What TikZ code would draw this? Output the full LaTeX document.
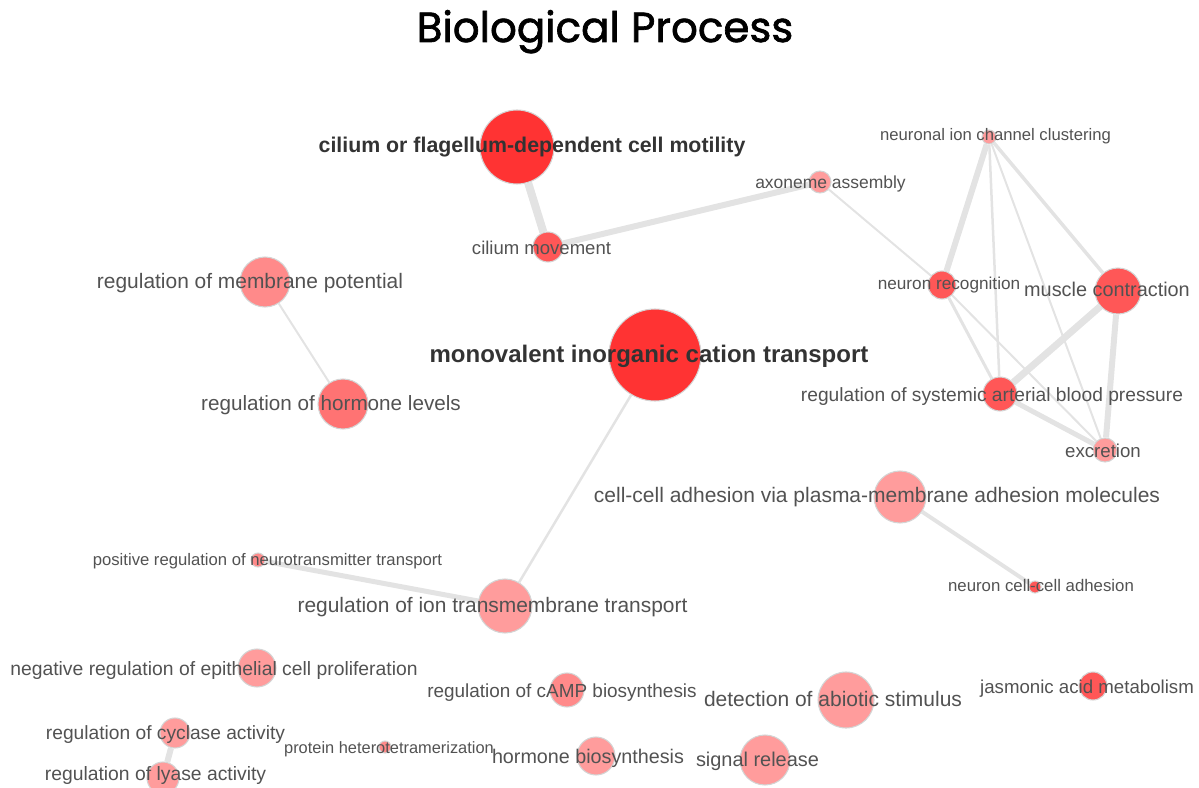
\documentclass[tikz,border=0pt]{standalone}
\usepackage{fontspec}
\setmainfont{Liberation Sans}
\newfontfamily\titlefont[RawFeature={embolden=1.6}]{Poppins}
\usepackage{xcolor}
\usetikzlibrary{positioning}

\definecolor{deep}{HTML}{FF3333}
\definecolor{strong}{HTML}{FF5757}
\definecolor{warm}{HTML}{FF7373}
\definecolor{soft}{HTML}{FF8A8A}
\definecolor{pale}{HTML}{FF9C9C}

\begin{document}
\begin{tikzpicture}[
    x=0.75pt, y=-0.75pt,
    term/.style={circle, draw=black!17, line width=0.8pt, inner sep=0pt, minimum size=#1*1.5pt},
    assoc/.style={draw=black!11, line width=#1*0.75pt},
    txt/.style={anchor=base, inner sep=0pt, text=black!68, font=\fontsize{#1}{#1}\selectfont},
    txtb/.style={anchor=base, inner sep=0pt, text=black!80, font=\bfseries\fontsize{#1}{#1}\selectfont}
]
\useasboundingbox (0,0) rectangle (1199,788);

\node[anchor=base, font=\titlefont\fontsize{31.5}{31.5}\selectfont] (title) at (605,42) {Biological Process};

% Terms
\node[term=37, fill=deep] (motility) at (517,147) {};
\node[term=15, fill=strong] (movement) at (548,247) {};
\node[term=11, fill=pale] (axoneme) at (820,182) {};
\node[term=7, fill=pale] (clustering) at (989,137) {};
\node[term=14, fill=strong] (recognition) at (942,285) {};
\node[term=23, fill=strong] (muscle) at (1118,291) {};
\node[term=17, fill=strong] (pressure) at (1000,394) {};
\node[term=12, fill=pale] (excretion) at (1105,450) {};
\node[term=46, fill=deep] (cation) at (655,355) {};
\node[term=25, fill=soft] (membrane) at (265,282) {};
\node[term=25, fill=warm] (hormone) at (343,404) {};
\node[term=26, fill=pale] (adhesion) at (900,497) {};
\node[term=6, fill=strong] (neuroadh) at (1035,587) {};
\node[term=7, fill=soft] (neurotrans) at (258,560) {};
\node[term=27, fill=pale] (iontrans) at (505,606) {};
\node[term=19, fill=pale] (epith) at (257,668) {};
\node[term=17, fill=soft] (camp) at (567,690) {};
\node[term=28, fill=pale] (abiotic) at (846,700) {};
\node[term=14, fill=strong] (jasmonic) at (1093,686) {};
\node[term=15, fill=pale] (cyclase) at (175,733) {};
\node[term=16, fill=pale] (lyase) at (163,778) {};
\node[term=6, fill=soft] (tetramer) at (385,747) {};
\node[term=19, fill=pale] (hormbio) at (596,756) {};
\node[term=25, fill=pale] (signal) at (765,760) {};

% Links
\path[assoc=8] (motility) -- (movement);
\path[assoc=6] (movement) -- (axoneme);
\path[assoc=2] (axoneme) -- (recognition);
\path[assoc=6] (clustering) -- (recognition);
\path[assoc=2.5] (clustering) -- (pressure);
\path[assoc=2] (clustering) -- (excretion);
\path[assoc=3.5] (clustering) -- (muscle);
\path[assoc=3] (recognition) -- (pressure);
\path[assoc=2] (recognition) -- (excretion);
\path[assoc=7] (muscle) -- (pressure);
\path[assoc=6] (muscle) -- (excretion);
\path[assoc=5] (pressure) -- (excretion);
\path[assoc=2] (membrane) -- (hormone);
\path[assoc=2.5] (cation) -- (iontrans);
\path[assoc=5] (neurotrans) -- (iontrans);
\path[assoc=4] (adhesion) -- (neuroadh);
\path[assoc=6] (cyclase) -- (lyase);

% Labels
\node[txtb=16] (motility-t) at (532,153) {cilium or flagellum-dependent cell motility};
\node[txtb=18] (cation-t) at (649,362.5) {monovalent inorganic cation transport};
\node[txt=13.9] (movement-t) at (541.5,254) {cilium movement};
\node[txt=13.1] (axoneme-t) at (830.5,188.5) {axoneme assembly};
\node[txt=12.5] (clustering-t) at (995.5,141) {neuronal ion channel clustering};
\node[txt=12.9] (recognition-t) at (949,289.5) {neuron recognition};
\node[txt=14.9] (muscle-t) at (1107,296) {muscle contraction};
\node[txt=14.4] (pressure-t) at (992,401) {regulation of systemic arterial blood pressure};
\node[txt=14] (excretion-t) at (1103,457) {excretion};
\node[txt=15.7] (membrane-t) at (250,288.5) {regulation of membrane potential};
\node[txt=15.5] (hormone-t) at (331,410.5) {regulation of hormone levels};
\node[txt=15.75] (adhesion-t) at (877,502.5) {cell-cell adhesion via plasma-membrane adhesion molecules};
\node[txt=12.6] (neuroadh-t) at (1041,591) {neuron cell-cell adhesion};
\node[txt=12.5] (neurotrans-t) at (267.5,565) {positive regulation of neurotransmitter transport};
\node[txt=15.7] (iontrans-t) at (492.5,612.5) {regulation of ion transmembrane transport};
\node[txt=14.5] (epith-t) at (214,675) {negative regulation of epithelial cell proliferation};
\node[txt=14.2] (camp-t) at (562,697) {regulation of cAMP biosynthesis};
\node[txt=15.75] (abiotic-t) at (833,706.5) {detection of abiotic stimulus};
\node[txt=14] (jasmonic-t) at (1087,693) {jasmonic acid metabolism};
\node[txt=14.4] (cyclase-t) at (165.5,739) {regulation of cyclase activity};
\node[txt=14.5] (lyase-t) at (155.5,780) {regulation of lyase activity};
\node[txt=12.3] (tetramer-t) at (389,753) {protein heterotetramerization};
\node[txt=14.8] (hormbio-t) at (588,763) {hormone biosynthesis};
\node[txt=14.95] (signal-t) at (757.5,766) {signal release};

\end{tikzpicture}
\end{document}
